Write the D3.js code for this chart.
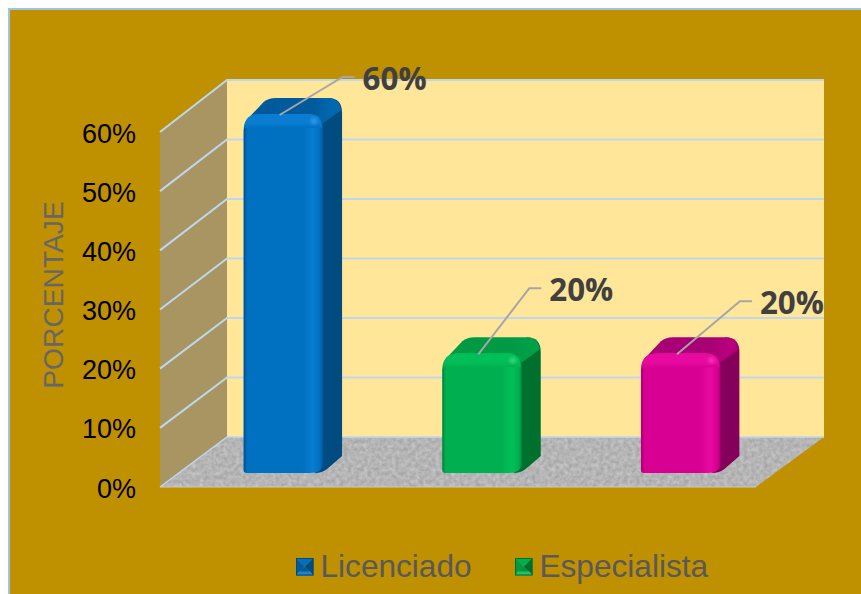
<!DOCTYPE html>
<html><head><meta charset="utf-8">
<script src="https://cdnjs.cloudflare.com/ajax/libs/d3/7.8.5/d3.min.js"></script>
<style>html,body{margin:0;padding:0;background:#fff;overflow:hidden}svg{display:block}</style>
</head><body><svg id="c" width="861" height="594"></svg>
<script>
const categories = ["Licenciado", "Especialista", "Otro"];
const values = [60, 20, 20];
const tickValues = [0, 10, 20, 30, 40, 50, 60];
const legendItems = ["Licenciado", "Especialista"];
const axisTitle = "PORCENTAJE";

const palettes = [
  {main:"#0070c0", light:"#0a7dd2", edge:"#00589a", top:"#005a9c", topHi:"#0069b0", side:"#004b80", spot:"#2a95e6"},
  {main:"#00b050", light:"#00bf58", edge:"#008f40", top:"#009a45", topHi:"#00a049", side:"#00702f", spot:"#2fd67c"},
  {main:"#d80093", light:"#e80aa0", edge:"#b0007a", top:"#a80074", topHi:"#b8007f", side:"#85005a", spot:"#f52db4"}
];
// leader-line elbow, relative to the point on the bar top
const leaderElbow = [[63,-38],[51,-66],[63,-53]];

const svg = d3.select("#c");
const defs = svg.append("defs");
const F = {x0:160, x1:756, y0:487, y1:132};   // front plane
const B = {x0:227, x1:824, y0:437, y1:80};    // back plane
const yFront = d3.scaleLinear().domain([0,60]).range([F.y0,F.y1]);
const yBack  = d3.scaleLinear().domain([0,60]).range([B.y0,B.y1]);
const yBar   = d3.scaleLinear().domain([0,60]).range([473,114]);
const x = d3.scaleBand().domain(categories).range([F.x0,F.x1]).paddingInner(0.6).paddingOuter(0.3);
const depthX = 19, depthY = 16, offX = 24;

// figure background
svg.append("rect").attr("width",861).attr("height",594).attr("fill","#fff");
svg.append("rect").attr("x",8).attr("y",8).attr("width",853).attr("height",586).attr("fill","#9dc3e6");
svg.append("rect").attr("x",10).attr("y",10).attr("width",851).attr("height",584).attr("fill","#bf9000");

// floor texture
const ft = defs.append("filter").attr("id","grain").attr("x",0).attr("y",0).attr("width","100%").attr("height","100%").attr("color-interpolation-filters","sRGB");
ft.append("feTurbulence").attr("type","fractalNoise").attr("baseFrequency","0.25").attr("numOctaves",2).attr("seed",4).attr("result","n");
ft.append("feColorMatrix").attr("in","n").attr("type","matrix")
  .attr("values","0.2 0 0 0 0.61  0.2 0 0 0 0.61  0.2 0 0 0 0.61  0 0 0 0 1").attr("result","g");
ft.append("feComposite").attr("in","g").attr("in2","SourceGraphic").attr("operator","in");

const poly = pts => "M"+pts.map(p=>p.join(",")).join("L")+"Z";
// walls & floor
svg.append("path").attr("d",poly([[B.x0,B.y1],[B.x1,B.y1],[B.x1,B.y0],[B.x0,B.y0]])).attr("fill","#ffe699");
svg.append("path").attr("d",poly([[F.x0,F.y1],[B.x0,B.y1],[B.x0,B.y0],[F.x0,F.y0]])).attr("fill","#a89562");
svg.append("path").attr("d",poly([[F.x0,F.y0],[B.x0,B.y0],[B.x1,B.y0],[F.x1,F.y0]])).attr("fill","#b8b8b8").attr("filter","url(#grain)");

// gridlines
const grid = svg.append("g").attr("fill","none").attr("stroke","#bdd7ee").attr("stroke-width",2);
grid.selectAll("path").data(tickValues).join("path")
  .attr("d",d=>`M${F.x0},${yFront(d)}L${B.x0},${yBack(d)}L${B.x1},${yBack(d)}`)
  .attr("stroke-width",d=>d===0?1.5:2);
svg.append("line").attr("x1",F.x0).attr("x2",F.x1).attr("y1",F.y0).attr("y2",F.y0).attr("stroke","#c9c9c9").attr("stroke-width",1);

// tick labels via d3 axis
const axis = d3.axisLeft(yFront).tickValues(tickValues).tickFormat(d=>d+"%").tickSize(0).tickPadding(0);
const ag = svg.append("g").attr("transform","translate(136,0)").call(axis);
ag.select(".domain").remove();
ag.selectAll("text").attr("font-family","'Liberation Sans',Arial,sans-serif").attr("font-size",27).attr("fill","#000").attr("dy",10).attr("text-anchor","end");

// axis title
svg.append("text").attr("transform","translate(63,295) rotate(-90)").attr("text-anchor","middle")
  .attr("font-family","'Liberation Sans',Arial,sans-serif").attr("font-size",28.2).attr("fill","#666").text(axisTitle);

// bar gradients
palettes.forEach((p,i)=>{
  const g = defs.append("linearGradient").attr("id","front"+i);
  [[0,p.edge],[0.05,p.main],[0.74,p.main],[0.87,p.light],[0.96,p.main],[1,p.edge]].forEach(s=>g.append("stop").attr("offset",s[0]).attr("stop-color",s[1]));
  const t = defs.append("linearGradient").attr("id","bevel"+i).attr("x1",0).attr("x2",0).attr("y1",0).attr("y2",1);
  [[0,p.light],[0.65,p.light],[1,p.main]].forEach(s=>t.append("stop").attr("offset",s[0]).attr("stop-color",s[1]));
  const tg = defs.append("linearGradient").attr("id","top"+i);
  [[0,p.top],[0.7,p.top],[0.9,p.topHi],[1,p.topHi]].forEach(s=>tg.append("stop").attr("offset",s[0]).attr("stop-color",s[1]));
});
const blur = defs.append("filter").attr("id","soft").attr("x","-100%").attr("y","-100%").attr("width","300%").attr("height","300%");
blur.append("feGaussianBlur").attr("stdDeviation",1.6);

// bars
const bars = svg.append("g").selectAll("g").data(categories.map((c,i)=>({c,v:values[i],i}))).join("g");
bars.each(function(d){
  const g = d3.select(this), p = palettes[d.i];
  const x0 = x(d.c)+offX, x1 = x0+x.bandwidth(), yt = yBar(d.v), yb = yBar(0);
  const r = 15;
  // side
  g.append("path").attr("fill",p.side).attr("d",
    `M${x1-6},${yt+6}L${x1+depthX-14},${yt-depthY}Q${x1+depthX},${yt-depthY} ${x1+depthX},${yt-depthY+15}
     L${x1+depthX},${yb-depthY-1}L${x1+4},${yb-4}Q${x1-1},${yb} ${x1-8},${yb}Z`);
  // top
  g.append("path").attr("fill",`url(#top${d.i})`).attr("d",
    `M${x0+4},${yt+5}L${x0+20},${yt-depthY+4}Q${x0+25},${yt-depthY} ${x0+32},${yt-depthY}
     L${x1+depthX-14},${yt-depthY}Q${x1+depthX-3},${yt-depthY} ${x1+depthX-1},${yt-depthY+12}
     L${x1-1},${yt+10}L${x0+5},${yt+10}Z`);
  // front
  g.append("path").attr("fill",`url(#front${d.i})`).attr("d",
    `M${x0},${yb-3}L${x0},${yt+r+2}Q${x0},${yt} ${x0+r+2},${yt}L${x1-r},${yt}Q${x1},${yt} ${x1},${yt+r}
     L${x1},${yb-10}Q${x1},${yb} ${x1-13},${yb}L${x0+3},${yb}Q${x0},${yb} ${x0},${yb-3}Z`);
  // top bevel
  g.append("path").attr("fill",`url(#bevel${d.i})`).attr("d",
    `M${x0+1},${yt+14}Q${x0+1},${yt} ${x0+r+2},${yt}L${x1-r},${yt}Q${x1-1},${yt} ${x1-1},${yt+14}L${x0+1},${yt+14}Z`);
  g.append("circle").attr("cx",x1-9).attr("cy",yt+7).attr("r",3.2).attr("fill",p.spot).attr("filter","url(#soft)");
  g.append("line").attr("x1",x0+1).attr("x2",x0+1).attr("y1",yt+15).attr("y2",yb-3).attr("stroke",p.edge).attr("stroke-width",1.5).attr("opacity",.8);
});

// leaders + labels
const labels = svg.append("g");
categories.forEach((c,i)=>{
  const sx = x(c)+offX+36, sy = yBar(values[i])+1;
  const ex = sx+leaderElbow[i][0], ey = sy+leaderElbow[i][1];
  labels.append("path").attr("d",`M${sx},${sy}L${ex},${ey}L${ex+12},${ey}`).attr("fill","none").attr("stroke","#a6a6a6").attr("stroke-width",2);
  labels.append("text").attr("x",ex+20).attr("y",ey+13).attr("font-family","'Open Sans',sans-serif").attr("font-weight",700).attr("font-size",32)
    .attr("fill","#404040").attr("textLength",64).attr("lengthAdjust","spacingAndGlyphs").text(values[i]+"%");
});

// legend
const legendX = d3.scalePoint().domain(legendItems).range([296,515]);
const lg = svg.append("g").selectAll("g").data(legendItems).join("g").attr("transform",d=>`translate(${legendX(d)},558)`);
lg.each(function(d,i){
  const g = d3.select(this), p = palettes[i], s = 17.5, n = 4;
  g.append("path").attr("d",poly([[0,0],[s,0],[s/2,s/2]])).attr("fill",p.main);
  g.append("path").attr("d",poly([[0,0],[s/2,s/2],[0,s]])).attr("fill",p.top);
  g.append("path").attr("d",poly([[s,0],[s,s],[s/2,s/2]])).attr("fill",p.side);
  g.append("path").attr("d",poly([[0,s],[s/2,s/2],[s,s]])).attr("fill",p.edge);
  g.append("path").attr("d",poly([[n-1,s-n],[s-n+1,s-n],[s,s],[0,s]])).attr("fill",p.spot).attr("opacity",.7);
  g.append("rect").attr("x",.5).attr("y",.5).attr("width",s-1).attr("height",s-1).attr("fill","none").attr("stroke",p.side).attr("stroke-width",1);
  g.append("text").attr("x",24.5).attr("y",18.7).attr("font-family","'Liberation Sans',Arial,sans-serif").attr("font-size",31.6).attr("fill","#595959").text(d);
});
</script></body></html>
